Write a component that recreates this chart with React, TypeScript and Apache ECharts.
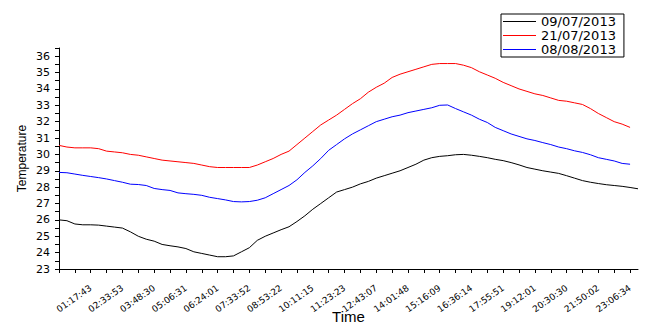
import React, { useEffect, useRef } from 'react';
import * as echarts from 'echarts';

const tickLabels = [
  '01:17:43', '02:33:53', '03:48:30', '05:06:31', '06:24:01', '07:33:52',
  '08:53:22', '10:11:15', '11:23:23', '12:43:07', '14:01:48', '15:16:09',
  '16:36:14', '17:55:51', '19:12:01', '20:30:30', '21:50:02', '23:06:34',
];

const samplesPerLabel = 4;
const sampleIndex = Array.from({ length: 74 }, (_, i) => String(i));

const seriesNames = ['09/07/2013', '21/07/2013', '08/08/2013'];
const seriesColors = ['#000000', '#ff0000', '#0000ff'];

const temp0907 = [
  26.0, 25.95, 25.75, 25.7, 25.7, 25.68, 25.62, 25.56, 25.5, 25.27,
  25.0, 24.82, 24.7, 24.5, 24.42, 24.35, 24.25, 24.05, 23.95, 23.85,
  23.75, 23.75, 23.8, 24.05, 24.3, 24.75, 25.0, 25.2, 25.4, 25.58,
  25.9, 26.25, 26.65, 27.0, 27.35, 27.7, 27.85, 28.0, 28.2, 28.35,
  28.55, 28.7, 28.85, 29.0, 29.2, 29.4, 29.65, 29.8, 29.88, 29.92,
  29.98, 30.0, 29.95, 29.88, 29.8, 29.7, 29.62, 29.5, 29.36, 29.2,
  29.1, 29.0, 28.92, 28.84, 28.7, 28.55, 28.4, 28.3, 28.22, 28.15,
  28.1, 28.05, 27.98, 27.9,
];

const temp2107 = [
  30.55, 30.45, 30.4, 30.4, 30.4, 30.35, 30.2, 30.15, 30.1, 30.0,
  29.95, 29.85, 29.75, 29.65, 29.6, 29.55, 29.5, 29.45, 29.35, 29.25,
  29.2, 29.2, 29.2, 29.2, 29.2, 29.35, 29.55, 29.75, 30.0, 30.2,
  30.6, 31.0, 31.4, 31.8, 32.1, 32.4, 32.75, 33.1, 33.4, 33.8,
  34.1, 34.35, 34.7, 34.9, 35.05, 35.2, 35.35, 35.5, 35.55, 35.55,
  35.55, 35.45, 35.3, 35.05, 34.85, 34.65, 34.4, 34.2, 34.0, 33.85,
  33.7, 33.6, 33.45, 33.3, 33.25, 33.15, 33.05, 32.8, 32.5, 32.25,
  32.0, 31.85, 31.65,
];

const temp0808 = [
  28.9, 28.88, 28.8, 28.72, 28.65, 28.58, 28.5, 28.4, 28.3, 28.18,
  28.16, 28.1, 27.92, 27.85, 27.8, 27.65, 27.6, 27.56, 27.5, 27.38,
  27.3, 27.22, 27.12, 27.1, 27.12, 27.2, 27.35, 27.6, 27.85, 28.1,
  28.45, 28.9, 29.3, 29.75, 30.25, 30.6, 30.95, 31.25, 31.5, 31.75,
  32.0, 32.15, 32.3, 32.4, 32.55, 32.65, 32.75, 32.85, 33.0, 33.02,
  32.8, 32.6, 32.4, 32.15, 31.95, 31.65, 31.45, 31.25, 31.1, 30.95,
  30.85, 30.72, 30.6, 30.45, 30.35, 30.22, 30.12, 29.98, 29.8, 29.7,
  29.6, 29.45, 29.4,
];

const yMin = 23;
const yMax = 36.5;
const yStep = 0.5;

export default function App() {
  const ref = useRef<HTMLDivElement>(null);

  useEffect(() => {
    if (!ref.current) return;
    const chart = echarts.init(ref.current, null, { renderer: 'svg' });
    const data = [temp0907, temp2107, temp0808];
    chart.setOption({
      animation: false,
      backgroundColor: '#ffffff',
      grid: {
        left: 59,
        right: 8,
        top: 48,
        bottom: 56,
        containLabel: false,
        outerBoundsMode: 'none',
      },
      legend: {
        orient: 'vertical',
        left: 501,
        top: 14,
        icon: 'rect',
        itemWidth: 33,
        itemHeight: 1.2,
        itemGap: 1,
        padding: [1, 8, 1, 2],
        borderColor: '#000000',
        borderWidth: 1,
        textStyle: {
          fontFamily: 'DejaVu Sans',
          fontSize: 13,
          lineHeight: 13,
          color: '#000000',
        },
        data: seriesNames,
      },
      xAxis: {
        type: 'category',
        data: sampleIndex,
        boundaryGap: false,
        name: 'Time',
        nameLocation: 'middle',
        nameGap: 40,
        nameMoveOverlap: false,
        nameTextStyle: {
          fontFamily: 'Liberation Sans',
          fontSize: 15,
          color: '#000000',
        },
        axisLine: { lineStyle: { color: '#000000', width: 1 } },
        axisTick: {
          show: true,
          length: 4,
          interval: (index: number) => index % (samplesPerLabel / 2) === 0,
          lineStyle: { color: '#000000' },
        },
        axisLabel: {
          interval: (index: number) => index > 0 && index % samplesPerLabel === 0,
          formatter: (_v: string, index: number) =>
            tickLabels[index / samplesPerLabel - 1] ?? '',
          rotate: 35,
          margin: 18,
          fontFamily: 'DejaVu Sans',
          fontSize: 9,
          color: '#000000',
        },
        splitLine: { show: false },
      },
      yAxis: {
        type: 'value',
        min: yMin,
        max: yMax,
        interval: yStep,
        name: 'Temperature',
        nameLocation: 'middle',
        nameGap: 31,
        nameMoveOverlap: false,
        nameTextStyle: {
          fontFamily: 'Liberation Sans',
          fontSize: 12,
          color: '#000000',
        },
        axisLine: { show: true, lineStyle: { color: '#000000', width: 1 } },
        axisTick: { show: true, length: 4, lineStyle: { color: '#000000' } },
        axisLabel: {
          formatter: (v: number) => (Number.isInteger(v) ? String(v) : ''),
          margin: 9,
          fontFamily: 'DejaVu Sans',
          fontSize: 11,
          color: '#000000',
        },
        splitLine: { show: false },
      },
      series: seriesNames.map((name, k) => ({
        name,
        type: 'line',
        data: data[k],
        color: seriesColors[k],
        showSymbol: false,
        symbol: 'none',
        lineStyle: { color: seriesColors[k], width: 1 },
        z: 3 - k,
      })),
    });
    return () => chart.dispose();
  }, []);

  return (
    <div
      ref={ref}
      style={{ position: 'fixed', left: 0, top: 0, width: 646, height: 325, background: '#fff' }}
    />
  );
}
